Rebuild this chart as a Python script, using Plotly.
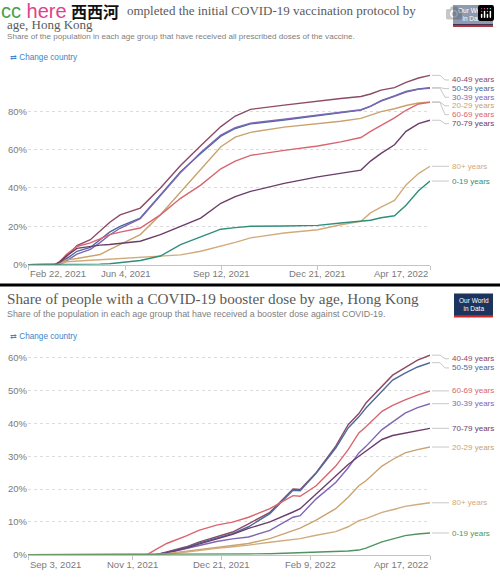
import plotly.graph_objects as go

W, H = 500, 578

# ---------------- data: top chart (initial protocol completed) ----------------
top_dates = ["2021-02-22", "2021-03-22", "2021-03-27", "2021-04-03", "2021-04-14", "2021-04-28",
             "2021-05-08", "2021-05-18", "2021-05-29", "2021-06-19", "2021-07-10", "2021-07-31",
             "2021-08-21", "2021-09-11", "2021-09-26", "2021-10-12", "2021-11-16", "2021-12-21",
             "2022-01-14", "2022-02-04", "2022-02-14", "2022-02-25", "2022-03-11", "2022-03-23",
             "2022-04-05", "2022-04-17"]
top_40_49 = [0, 0, 0.5, 4, 10, 13, 17.5, 22, 26, 29.5, 40, 51.7, 62, 72, 77.5, 81, 83.2, 85.4, 86.6, 87.7, 89, 91, 92.3, 95, 97.3, 98.7]
top_50_59 = [0, 0, 0.3, 3, 7, 9, 13, 17, 20, 24.3, 36.3, 48.5, 58, 67, 71, 73.4, 75.4, 77.7, 79, 80.6, 82.5, 85.5, 88, 90.3, 91.6, 92.3]
top_30_39 = [0, 0, 0.2, 2, 5.5, 8, 11.5, 15.5, 19, 24, 36, 48, 58.5, 67.5, 71.5, 73.8, 75.8, 78, 79.3, 80.8, 82.7, 85.3, 87.8, 90, 91.5, 92]
top_20_29 = [0, 0, 0.5, 2.5, 3.2, 4.2, 5.3, 7.8, 10.5, 15.7, 26, 38, 50, 61.5, 66.5, 69, 71.7, 73.4, 74.8, 76.3, 77.8, 79.8, 81.3, 83, 84.3, 84.9]
top_60_69 = [0, 0, 1.5, 5.3, 9.5, 11.4, 13.5, 15.7, 17, 19.1, 26, 34.6, 41.5, 50, 54, 57, 59.6, 61.9, 64, 66.3, 69.5, 72.5, 76.5, 80.5, 83.8, 84.6]
top_70_79 = [0, 0, 1.5, 4.5, 8.5, 9.7, 10.2, 10.5, 11, 12.2, 15.7, 20, 24.3, 32, 35.5, 38.2, 42.4, 45.8, 47.6, 49.3, 54, 58, 62.5, 69.5, 73.5, 75.3]
top_80p = [0, 0, 0.3, 1.5, 2, 2.3, 2.6, 2.9, 3.2, 3.6, 4.3, 5.1, 7, 9.5, 11.6, 14, 16.5, 18.2, 20.8, 22.6, 27, 30, 33.5, 41.5, 47.5, 51.3]
top_0_19 = [0, 0, 0, 0, 0, 0, 0.3, 0.5, 1, 2.2, 4.5, 10.5, 14.5, 18.5, 19.3, 20, 20.2, 20.5, 21.7, 22.6, 23.2, 24.5, 25.5, 31, 38.5, 43.6]

top_tick_dates = ["2021-02-22", "2021-06-04", "2021-09-12", "2021-12-21", "2022-04-17"]
top_tick_text = ["Feb 22, 2021", "Jun 4, 2021", "Sep 12, 2021", "Dec 21, 2021", "Apr 17, 2022"]
top_y_ticks = [0, 20, 40, 60, 80]
top_y_text = ["0%", "20%", "40%", "60%", "80%"]

# ---------------- data: bottom chart (booster dose) ----------------
bot_dates = ["2021-09-03", "2021-11-09", "2021-11-14", "2021-11-20", "2021-12-01", "2021-12-08",
             "2021-12-18", "2021-12-27", "2022-01-05", "2022-01-17", "2022-01-30", "2022-02-03",
             "2022-02-12", "2022-02-23", "2022-03-02", "2022-03-08", "2022-03-12", "2022-03-21",
             "2022-03-27", "2022-04-03", "2022-04-10", "2022-04-17"]
bot_40_49 = [0, 0, 0, 0.8, 2.4, 3.8, 5.4, 6.9, 9.4, 12.9, 20, 19.9, 25, 33.1, 39.6, 43, 46.2, 51.5, 54.7, 57, 59.3, 60.8]
bot_50_59 = [0, 0, 0, 0.7, 2.2, 3.5, 5, 6.4, 8.5, 12.5, 19.6, 19.5, 24.8, 32.5, 38.6, 42, 44.7, 50, 53.2, 55.3, 57.2, 58.5]
bot_60_69 = [0, 0, 1.6, 3.4, 5.7, 7.4, 9, 9.9, 11.4, 14, 18, 17.8, 21, 27, 32, 37.1, 39, 43.7, 45.5, 47.2, 48.6, 49.9]
bot_30_39 = [0, 0, 0, 0.5, 1.8, 2.8, 4, 4.8, 5.4, 7.4, 11.4, 11.9, 17, 22, 26.5, 31, 33, 38.1, 40.5, 43.1, 44.8, 46]
bot_70_79 = [0, 0, 0, 0.6, 2, 3.2, 4.8, 6.2, 8, 10, 13, 14, 18.5, 24, 27.5, 30, 31.5, 35.1, 36.3, 37.1, 37.9, 38.5]
bot_20_29 = [0, 0, 0, 0.3, 1, 1.6, 2.3, 2.8, 3.4, 4.9, 7.4, 8.1, 10.5, 14, 17.5, 21, 22.5, 27, 29, 31, 32, 32.8]
bot_80p = [0, 0, 0, 0.2, 0.8, 1.3, 1.9, 2.4, 2.9, 3.8, 4.6, 4.9, 5.9, 7, 8.5, 10.4, 11, 12.9, 13.7, 14.7, 15.3, 15.8]
bot_0_19 = [0, 0, 0, 0, 0.05, 0.1, 0.15, 0.2, 0.2, 0.3, 0.5, 0.6, 0.7, 0.9, 1.1, 1.4, 2, 3.9, 4.8, 5.8, 6.3, 6.6]

bot_tick_dates = ["2021-09-03", "2021-11-01", "2021-12-21", "2022-02-09", "2022-04-17"]
bot_tick_text = ["Sep 3, 2021", "Nov 1, 2021", "Dec 21, 2021", "Feb 9, 2022", "Apr 17, 2022"]
bot_y_ticks = [0, 10, 20, 30, 40, 50, 60]
bot_y_text = ["0%", "10%", "20%", "30%", "40%", "50%", "60%"]

# ---------------- styling ----------------
COL = {
    "40-49 years": "#8c4a66",
    "50-59 years": "#4c6a9c",
    "30-39 years": "#7d66b4",
    "20-29 years": "#c9a36e",
    "60-69 years": "#d9656f",
    "70-79 years": "#6b3d6b",
    "80+ years": "#d2ab7c",
    "0-19 years": "#2f8f78",
}
COL_BOT_019 = "#4f9460"

# (name, values, label position in data units)
top_series = [("40-49 years", top_40_49, 96.3), ("50-59 years", top_50_59, 91.8),
              ("30-39 years", top_30_39, 87.3), ("20-29 years", top_20_29, 82.8),
              ("60-69 years", top_60_69, 78.2), ("70-79 years", top_70_79, 73.5),
              ("80+ years", top_80p, 51.3), ("0-19 years", top_0_19, 43.6)]
bot_series = [("40-49 years", bot_40_49, 59.7), ("50-59 years", bot_50_59, 56.9),
              ("60-69 years", bot_60_69, 49.9), ("30-39 years", bot_30_39, 46.0),
              ("70-79 years", bot_70_79, 38.5), ("20-29 years", bot_20_29, 32.8),
              ("80+ years", bot_80p, 15.8), ("0-19 years", bot_0_19, 6.6)]


def px_x(p):
    return p / W


def px_y(p):
    return 1 - p / H


SANS = "Liberation Sans, Arial, sans-serif"
SERIF = "Liberation Serif, Times New Roman, serif"
GREY = "#7a7a7a"

fig = go.Figure()

for name, vals, _ in top_series:
    fig.add_trace(go.Scatter(x=top_dates, y=vals, mode="lines", name=name,
                             line=dict(color=COL[name], width=1.4),
                             xaxis="x", yaxis="y", showlegend=False))
for name, vals, _ in bot_series:
    c = COL_BOT_019 if name == "0-19 years" else COL[name]
    fig.add_trace(go.Scatter(x=bot_dates, y=vals, mode="lines", name=name,
                             line=dict(color=c, width=1.4),
                             xaxis="x2", yaxis="y2", showlegend=False))

x_dom = [px_x(28), px_x(430)]
top_dom = [px_y(267), px_y(267 - 100 * 1.935)]
bot_dom = [px_y(559.5), px_y(559.5 - 62 * 3.31)]

axis_common = dict(type="date", showgrid=False, showline=True, linecolor="#c4c4c4", linewidth=1,
                   ticks="outside", ticklen=4, tickcolor="#c4c4c4", showticklabels=False,
                   zeroline=False, fixedrange=True)
yaxis_common = dict(showgrid=True, gridcolor="#dcdcdc", griddash="dot", gridwidth=1,
                    zeroline=False, showline=False,
                    tickfont=dict(family=SANS, size=9.5, color=GREY), ticks="", fixedrange=True)

annotations = []
shapes = []

# x tick labels as annotations (first left aligned, last right aligned, like the original)
anchors = ["left", "center", "center", "center", "right"]
for d, t, a in zip(top_tick_dates, top_tick_text, anchors):
    annotations.append(dict(x=d, y=px_y(276), xref="x", yref="paper", text=t, showarrow=False,
                            xanchor=a, yanchor="middle", font=dict(family=SANS, size=9.5, color=GREY)))
for d, t, a in zip(bot_tick_dates, bot_tick_text, anchors):
    annotations.append(dict(x=d, y=px_y(569), xref="x2", yref="paper", text=t, showarrow=False,
                            xanchor=a, yanchor="middle", font=dict(family=SANS, size=9.5, color=GREY)))


def add_labels(series, yref, colfun):
    for name, vals, ly in series:
        ve = vals[-1]
        c = colfun(name)
        annotations.append(dict(x=px_x(450), y=ly, xref="paper", yref=yref, text=name, showarrow=False,
                                xanchor="left", yanchor="middle",
                                font=dict(family=SANS, size=8, color=c)))
        path = "M {a},{v} L {b},{v} L {c2},{l} L {d},{l}".format(
            a=px_x(432), b=px_x(440), c2=px_x(445), d=px_x(449), v=ve, l=ly)
        shapes.append(dict(type="path", path=path, xref="paper", yref=yref,
                           line=dict(color="#c8c8c8", width=1)))


add_labels(top_series, "y", lambda n: COL[n])
add_labels(bot_series, "y2", lambda n: COL_BOT_019 if n == "0-19 years" else COL[n])

# titles (the start of the first title is hidden under the watermark in the original)
TITLE_COL = "#5a5a5a"
annotations += [
    dict(x=px_x(125), y=px_y(11), xref="paper", yref="paper", xanchor="left", yanchor="middle",
         text="ompleted the initial COVID-19 vaccination protocol by",
         showarrow=False, font=dict(family=SERIF, size=13, color=TITLE_COL)),
    dict(x=px_x(5), y=px_y(24.5), xref="paper", yref="paper", xanchor="left", yanchor="middle",
         text="age, Hong Kong", showarrow=False, font=dict(family=SERIF, size=13, color=TITLE_COL)),
    dict(x=px_x(5), y=px_y(37), xref="paper", yref="paper", xanchor="left", yanchor="middle",
         text="Share of the population in each age group that have received all prescribed doses of the vaccine.",
         showarrow=False, font=dict(family=SANS, size=8.1, color="#808080")),
    dict(x=px_x(8), y=px_y(58), xref="paper", yref="paper", xanchor="left", yanchor="middle",
         text="⇄ Change country", showarrow=False, font=dict(family=SANS, size=8.2, color="#3b84c8")),
    dict(x=px_x(5), y=px_y(301), xref="paper", yref="paper", xanchor="left", yanchor="middle",
         text="Share of people with a COVID-19 booster dose by age, Hong Kong",
         showarrow=False, font=dict(family=SERIF, size=15.2, color=TITLE_COL)),
    dict(x=px_x(5), y=px_y(317), xref="paper", yref="paper", xanchor="left", yanchor="middle",
         text="Share of the population in each age group that have received a booster dose against COVID-19.",
         showarrow=False, font=dict(family=SANS, size=8.9, color="#808080")),
    dict(x=px_x(8), y=px_y(339), xref="paper", yref="paper", xanchor="left", yanchor="middle",
         text="⇄ Change country", showarrow=False, font=dict(family=SANS, size=8.2, color="#3b84c8")),
]

# watermark
annotations += [
    dict(x=0, y=px_y(11), xref="paper", yref="paper", xanchor="left", yanchor="middle",
         text="<span style='color:#3fa24c'>cc</span> <span style='color:#e0418c'>here</span>",
         showarrow=False, borderpad=0, font=dict(family=SANS, size=20, color="#e0418c")),
    dict(x=px_x(70), y=px_y(11), xref="paper", yref="paper", xanchor="left", yanchor="middle",
         text="<b>西西河</b>", showarrow=False, borderpad=0,
         font=dict(family="Noto Sans CJK SC", size=16, color="#111111")),
]

# OWID logos
for (x0, y0, x1, y1) in [(453, 5, 493, 27), (454, 296, 493, 320)]:
    shapes.append(dict(type="rect", xref="paper", yref="paper", x0=px_x(x0), x1=px_x(x1),
                       y0=px_y(y1), y1=px_y(y0), fillcolor="#1b355f", line=dict(width=0), layer="above"))
    shapes.append(dict(type="rect", xref="paper", yref="paper", x0=px_x(x0), x1=px_x(x1),
                       y0=px_y(y1), y1=px_y(y1 - 2), fillcolor="#cc2a2a", line=dict(width=0), layer="above"))
    annotations.append(dict(x=px_x((x0 + x1) / 2), y=px_y((y0 + y1) / 2 - 1), xref="paper", yref="paper",
                            text="Our World<br>in Data", showarrow=False, xanchor="center", yanchor="middle",
                            font=dict(family=SANS, size=6.5, color="white")))

# separator between the two screenshots
shapes.append(dict(type="line", xref="paper", yref="paper", x0=0, x1=1, y0=px_y(287.5), y1=px_y(287.5),
                   line=dict(color="black", width=3), layer="above"))

fig.update_layout(
    width=W, height=H,
    margin=dict(l=0, r=0, t=0, b=0),
    paper_bgcolor="white", plot_bgcolor="white",
    showlegend=False,
    xaxis=dict(domain=x_dom, range=[top_dates[0], top_dates[-1]], tickvals=top_tick_dates,
               anchor="y", **axis_common),
    yaxis=dict(domain=top_dom, range=[0, 100], tickmode="array", tickvals=top_y_ticks,
               ticktext=top_y_text, anchor="x", **yaxis_common),
    xaxis2=dict(domain=x_dom, range=[bot_dates[0], bot_dates[-1]], tickvals=bot_tick_dates,
                anchor="y2", **axis_common),
    yaxis2=dict(domain=bot_dom, range=[0, 62], tickmode="array", tickvals=bot_y_ticks,
                ticktext=bot_y_text, anchor="x2", **yaxis_common),
    annotations=annotations,
    shapes=shapes,
)

fig.write_html("out.html",
               post_script="document.body.style.margin='0';document.body.style.overflow='hidden';")
